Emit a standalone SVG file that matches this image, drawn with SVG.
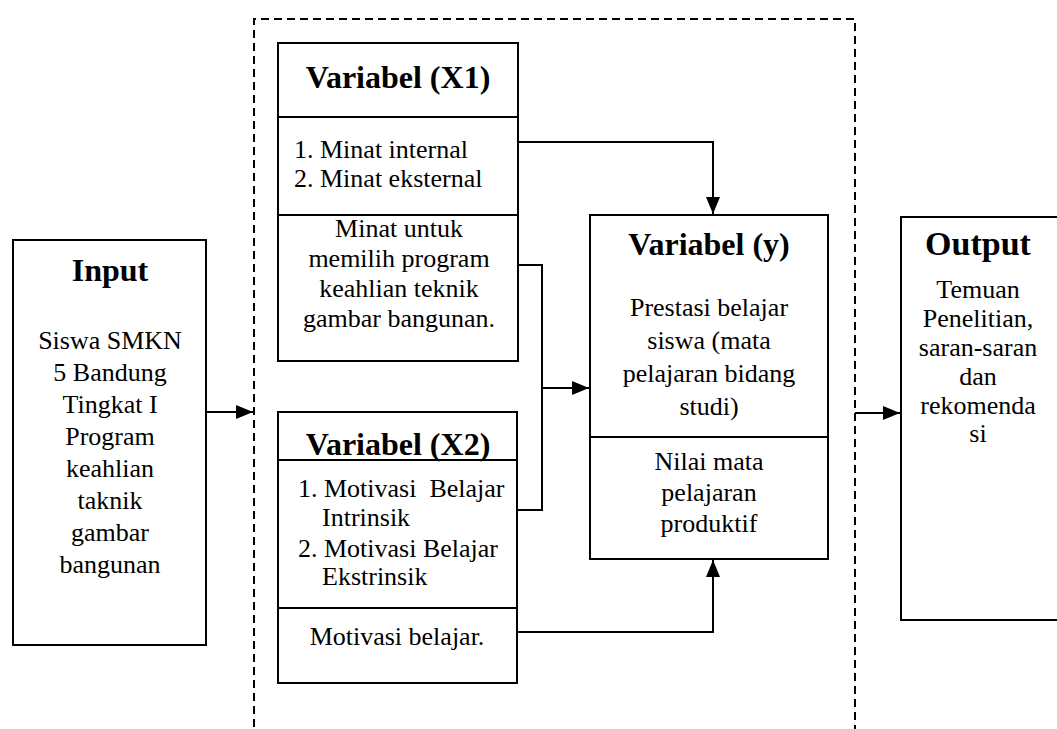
<svg xmlns="http://www.w3.org/2000/svg" width="1057" height="729" viewBox="0 0 1057 729">
<style>
.box{fill:#fff;stroke:#000;stroke-width:2}
.div{stroke:#000;stroke-width:2;fill:none}
.t{font-family:"Liberation Serif","Times New Roman",serif;font-size:26px;fill:#000}
.c{text-anchor:middle}
.h{font-family:"Liberation Serif","Times New Roman",serif;font-size:32px;font-weight:bold;fill:#000;text-anchor:middle}
.con{stroke:#000;stroke-width:2;fill:none}
.arr{marker-end:url(#ah)}
.dash{fill:none;stroke:#000;stroke-width:2;stroke-dasharray:8 5}
</style>
<defs>
<marker id="ah" markerUnits="userSpaceOnUse" markerWidth="18" markerHeight="14" refX="17" refY="7" orient="auto">
<path d="M0,0 L17,7 L0,14 Z" fill="#000"/>
</marker>
</defs>
<rect width="1057" height="729" fill="#fff"/>
<g id="boundary">
<path class="dash" d="M254,740 V19 H855 V740"/>
</g>
<g id="input">
<rect class="box" x="13" y="240" width="193" height="405"/>
<text class="h" x="110" y="281">Input</text>
<text class="t c" x="110" y="349">Siswa SMKN</text>
<text class="t c" x="110" y="381">5 Bandung</text>
<text class="t c" x="110" y="413">Tingkat I</text>
<text class="t c" x="110" y="445">Program</text>
<text class="t c" x="110" y="477">keahlian</text>
<text class="t c" x="110" y="509">taknik</text>
<text class="t c" x="110" y="541">gambar</text>
<text class="t c" x="110" y="573">bangunan</text>
</g>
<g id="x1">
<rect class="box" x="278" y="43" width="240" height="318"/>
<line class="div" x1="278" y1="117" x2="518" y2="117"/>
<line class="div" x1="278" y1="215" x2="518" y2="215"/>
<text class="h" x="398" y="88">Variabel (X1)</text>
<text class="t" x="294" y="158">1. Minat internal</text>
<text class="t" x="294" y="187">2. Minat eksternal</text>
<text class="t c" x="399" y="237">Minat untuk</text>
<text class="t c" x="399" y="267">memilih program</text>
<text class="t c" x="399" y="297">keahlian teknik</text>
<text class="t c" x="399" y="327">gambar bangunan.</text>
</g>
<g id="x2">
<rect class="box" x="278" y="412" width="239" height="271"/>
<line class="div" x1="278" y1="460" x2="517" y2="460"/>
<line class="div" x1="278" y1="608" x2="517" y2="608"/>
<text class="h" x="398" y="455">Variabel (X2)</text>
<text class="t" x="298" y="497" style="white-space:pre">1. Motivasi  Belajar</text>
<text class="t" x="322" y="526">Intrinsik</text>
<text class="t" x="298" y="557">2. Motivasi Belajar</text>
<text class="t" x="322" y="585">Ekstrinsik</text>
<text class="t c" x="397" y="645">Motivasi belajar.</text>
</g>
<g id="y">
<rect class="box" x="590" y="215" width="238" height="344"/>
<line class="div" x1="590" y1="437" x2="828" y2="437"/>
<text class="h" x="709" y="255">Variabel (y)</text>
<text class="t c" x="709" y="316">Prestasi belajar</text>
<text class="t c" x="709" y="349">siswa (mata</text>
<text class="t c" x="709" y="382">pelajaran bidang</text>
<text class="t c" x="709" y="415">studi)</text>
<text class="t c" x="709" y="470">Nilai mata</text>
<text class="t c" x="709" y="501">pelajaran</text>
<text class="t c" x="709" y="532">produktif</text>
</g>
<g id="output">
<rect class="box" x="901" y="217" width="170" height="403"/>
<text class="h" x="978" y="255" style="font-size:34px">Output</text>
<text class="t c" x="978" y="298">Temuan</text>
<text class="t c" x="978" y="327">Penelitian,</text>
<text class="t c" x="978" y="356">saran-saran</text>
<text class="t c" x="978" y="385">dan</text>
<text class="t c" x="978" y="414">rekomenda</text>
<text class="t c" x="978" y="442">si</text>
</g>
<g id="connectors">
<path class="con arr" d="M206,412 H253"/>
<path class="con arr" d="M518,142 H713 V214"/>
<path class="con" d="M518,265 H542 V510 H517"/>
<path class="con arr" d="M542,388 H589"/>
<path class="con arr" d="M517,632 H713 V560"/>
<path class="con arr" d="M855,413 H900"/>
</g>
</svg>
